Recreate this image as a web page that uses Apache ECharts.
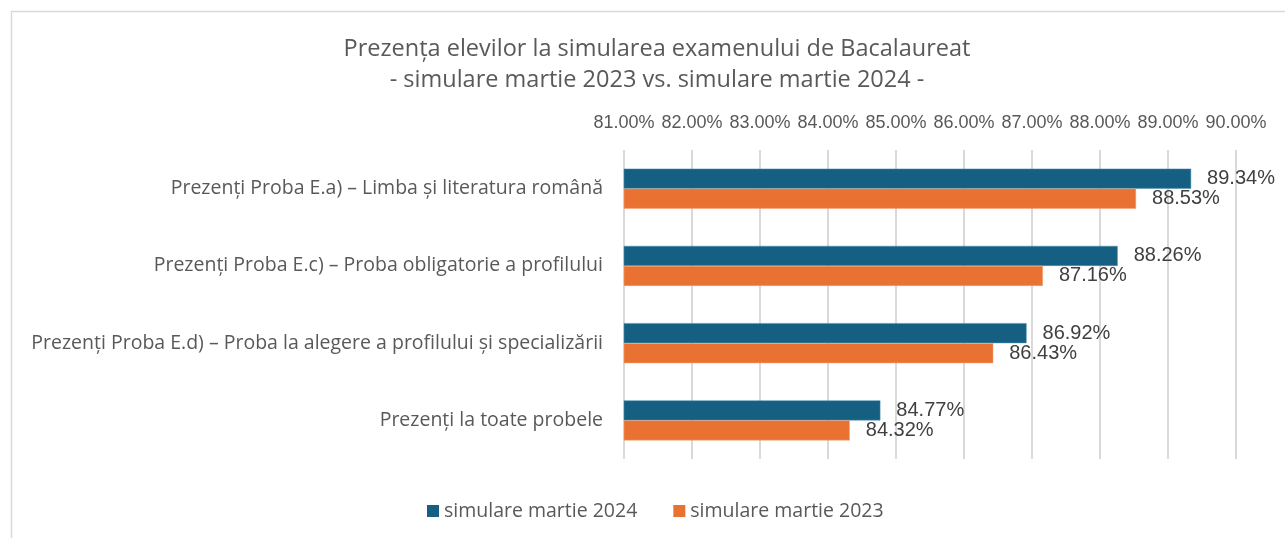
<!DOCTYPE html>
<html>
<head>
<meta charset="utf-8">
<script src="https://cdn.jsdelivr.net/npm/echarts@6/dist/echarts.min.js"></script>
<style>
html,body{margin:0;padding:0;background:#fff;}
#chart{width:1285px;height:538px;}
</style>
</head>
<body>
<div id="chart"></div>
<script>
const categories = [
  "Prezenți Proba E.a) – Limba și literatura română",
  "Prezenți Proba E.c) – Proba obligatorie a profilului",
  "Prezenți Proba E.d) – Proba la alegere a profilului și specializării",
  "Prezenți la toate probele"
];
const seriesNames = ["simulare martie 2024", "simulare martie 2023"];
const values2024 = [89.34, 88.26, 86.92, 84.77];
const values2023 = [88.53, 87.16, 86.43, 84.32];
const titleLines = [
  "Prezența elevilor la simularea examenului de Bacalaureat",
  "- simulare martie 2023 vs. simulare martie 2024 -"
];

const TXT = "'Open Sans', sans-serif";
const NUM = "'Liberation Sans', Arial, sans-serif";
const chart = echarts.init(document.getElementById('chart'), null, {renderer: 'canvas'});
chart.setOption({
  backgroundColor: '#ffffff',
  animation: false,
  graphic: [{
    type: 'rect', silent: true, z: -10,
    shape: {x: 11.5, y: 11.5, width: 1400, height: 700},
    style: {fill: 'none', stroke: '#d9d9d9', lineWidth: 1.5}
  }],
  title: {
    text: titleLines.join('\n'),
    left: 652, top: 29, textAlign: 'center',
    textStyle: {fontFamily: TXT, fontSize: 23.5, fontWeight: 'normal', color: '#595959', lineHeight: 31}
  },
  legend: {
    data: seriesNames,
    left: 422, top: 496,
    itemWidth: 12, itemHeight: 12, itemGap: 36,
    icon: 'rect',
    itemStyle: {borderWidth: 0},
    textStyle: {fontFamily: TXT, fontSize: 19.5, color: '#595959', padding: [0,0,0,0]}
  },
  grid: {left: 624, right: 49, top: 150, bottom: 79, containLabel: false},
  xAxis: {
    type: 'value', position: 'top', min: 81, max: 90, interval: 1,
    axisLine: {show: false}, axisTick: {show: false},
    axisLabel: {margin: 18, fontFamily: NUM, fontSize: 18, color: '#595959',
      formatter: v => v.toFixed(2) + '%'},
    splitLine: {show: true, lineStyle: {color: '#d9d9d9', width: 2}}
  },
  yAxis: {
    type: 'category', data: categories, inverse: true,
    axisLine: {show: false}, axisTick: {show: false},
    axisLabel: {margin: 21, fontFamily: TXT, fontSize: 19.5, color: '#595959'}
  },
  series: [
    {
      name: seriesNames[0], type: 'bar', data: values2024,
      barWidth: 20, barGap: '0%',
      itemStyle: {color: '#156082', borderColor: '#4e90b0', borderWidth: 0.5},
      label: {show: true, position: 'right', distance: 16, fontFamily: NUM, fontSize: 20, color: '#404040',
        formatter: p => p.value.toFixed(2) + '%'}
    },
    {
      name: seriesNames[1], type: 'bar', data: values2023,
      barWidth: 20, barGap: '0%',
      itemStyle: {color: '#E97132', borderColor: '#f3a070', borderWidth: 0.5},
      label: {show: true, position: 'right', distance: 16, fontFamily: NUM, fontSize: 20, color: '#404040',
        formatter: p => p.value.toFixed(2) + '%'}
    }
  ]
});
</script>
</body>
</html>
